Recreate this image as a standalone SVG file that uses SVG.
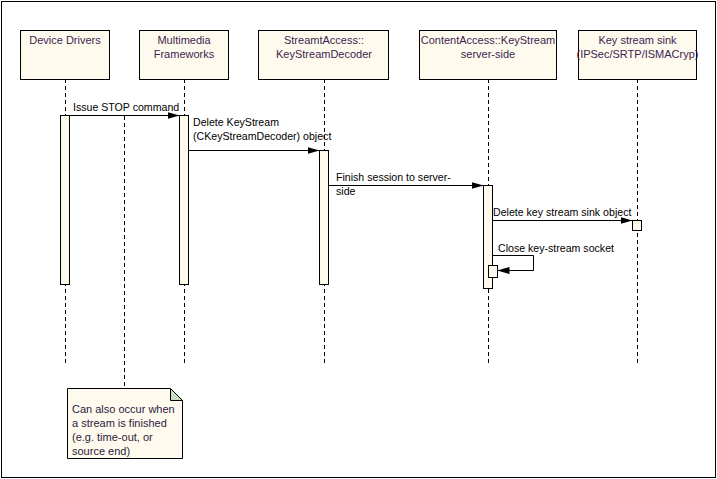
<svg xmlns="http://www.w3.org/2000/svg" width="717" height="479" viewBox="0 0 717 479">
<style>
.box{fill:#fffaee;stroke:#000;stroke-width:1}
.act{fill:#fffaee;stroke:#000;stroke-width:1}
.life{stroke:#000;stroke-width:1;stroke-dasharray:4,3;fill:none}
.msg{stroke:#000;stroke-width:1;fill:none}
.hd{font-family:"Liberation Sans",Arial,sans-serif;font-size:11px;fill:#3c1e50;text-anchor:middle}
.lb{font-family:"Liberation Sans",Arial,sans-serif;font-size:10.6px;fill:#000}
.nt{font-family:"Liberation Sans",Arial,sans-serif;font-size:11px;fill:#2a1a40}
</style>
<defs>
<marker id="ah" markerWidth="12" markerHeight="8" refX="12" refY="4" orient="auto" markerUnits="userSpaceOnUse">
<path d="M0,0.5 L12,4 L0,7.5 Z" fill="#000"/>
</marker>
</defs>
<rect x="0" y="0" width="717" height="479" fill="#fff"/>
<rect x="1.5" y="1.5" width="714" height="476" fill="none" stroke="#000"/>

<g id="lifelines">
<line class="life" x1="65.5" y1="79" x2="65.5" y2="363"/>
<line class="life" x1="184.5" y1="79" x2="184.5" y2="363"/>
<line class="life" x1="324.5" y1="79" x2="324.5" y2="363"/>
<line class="life" x1="488.5" y1="79" x2="488.5" y2="363"/>
<line class="life" x1="637.5" y1="79" x2="637.5" y2="363"/>
</g>

<g id="device-drivers">
<rect class="box" x="20.5" y="30.5" width="89" height="49"/>
<text class="hd" x="65" y="44">Device Drivers</text>
<rect class="act" x="60.5" y="115.5" width="9" height="169"/>
</g>

<g id="multimedia-frameworks">
<rect class="box" x="139.5" y="30.5" width="89" height="49"/>
<text class="hd" x="184" y="44">Multimedia</text>
<text class="hd" x="184" y="58">Frameworks</text>
<rect class="act" x="179.5" y="115.5" width="9" height="169"/>
</g>

<g id="keystreamdecoder">
<rect class="box" x="258.5" y="30.5" width="130" height="49"/>
<text class="hd" x="324" y="44">StreamtAccess::</text>
<text class="hd" x="324" y="58">KeyStreamDecoder</text>
<rect class="act" x="319.5" y="150.5" width="9" height="134"/>
</g>

<g id="contentaccess-keystream">
<rect class="box" x="419.5" y="30.5" width="137" height="49"/>
<text class="hd" x="488" y="44">ContentAccess::KeyStream</text>
<text class="hd" x="488" y="58">server-side</text>
<rect class="act" x="483.5" y="185.5" width="9" height="103"/>
<rect class="act" x="488.5" y="265.5" width="9" height="12"/>
</g>

<g id="key-stream-sink">
<rect class="box" x="578.5" y="30.5" width="118" height="49"/>
<text class="hd" x="637.5" y="44">Key stream sink</text>
<text class="hd" x="637.5" y="58">(IPSec/SRTP/ISMACryp)</text>
<rect class="act" x="632.5" y="220.5" width="9" height="10"/>
</g>

<g id="connectors">
<line class="msg" x1="69.5" y1="115.5" x2="179.5" y2="115.5" marker-end="url(#ah)"/>
<text class="lb" x="73" y="111">Issue STOP command</text>

<line class="msg" x1="188.5" y1="150.5" x2="319.5" y2="150.5" marker-end="url(#ah)"/>
<text class="lb" x="193" y="126">Delete KeyStream</text>
<text class="lb" x="193" y="140">(CKeyStreamDecoder) object</text>

<line class="msg" x1="328.5" y1="185.5" x2="483.5" y2="185.5" marker-end="url(#ah)"/>
<rect x="336" y="186" width="21" height="11" fill="#fff"/>
<text class="lb" x="336" y="181">Finish session to server-</text>
<text class="lb" x="336" y="195">side</text>

<line class="msg" x1="492.5" y1="220.5" x2="632.5" y2="220.5" marker-end="url(#ah)"/>
<text class="lb" x="493" y="216">Delete key stream sink object</text>

<polyline class="msg" points="492.5,255.5 533.5,255.5 533.5,270.5 497.5,270.5" marker-end="url(#ah)"/>
<text class="lb" x="498" y="252">Close key-stream socket</text>

<line class="life" x1="124.5" y1="116" x2="124.5" y2="388"/>
</g>

<g id="note">
<polygon points="67.5,388.5 170.5,388.5 182.5,400.5 182.5,458.5 67.5,458.5" fill="#fffaee" stroke="#000"/>
<polygon points="170.5,388.5 182.5,400.5 170.5,400.5" fill="#c8dcc4" stroke="#000"/>
<text class="nt" x="72" y="413">Can also occur when</text>
<text class="nt" x="72" y="427">a stream is finished</text>
<text class="nt" x="72" y="441">(e.g. time-out, or</text>
<text class="nt" x="72" y="455">source end)</text>
</g>
</svg>
